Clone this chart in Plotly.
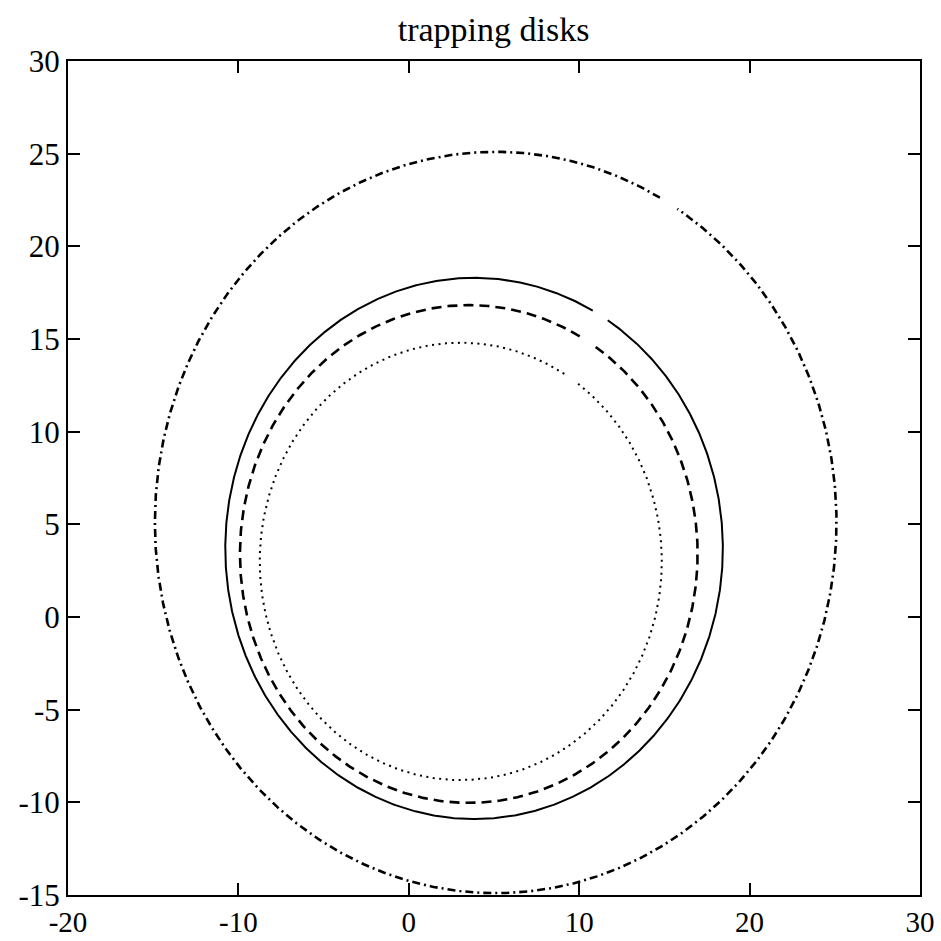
import numpy as np
import plotly.graph_objects as go

# Trapping disks: centre, radius and the small unplotted arc (degrees)
disk_names = ["outer (dash-dot)", "solid", "dashed", "dotted"]
center_x = [5.1, 3.83, 3.52, 3.05]
center_y = [5.1, 3.70, 3.40, 3.00]
radius = [20.0, 14.6, 13.43, 11.8]
gap_from_deg = [57.8, 57.5, 57.5, 55.0]
gap_to_deg = [61.2, 61.5, 61.0, 59.0]

line_dash = ["8px,4px,2px,4px", "solid", "10px,6px", "2px,4.5px"]
line_width = [2.6, 2.0, 2.6, 2.0]

x_ticks = [-20, -10, 0, 10, 20, 30]
y_ticks = [-15, -10, -5, 0, 5, 10, 15, 20, 25, 30]

fig = go.Figure()
for i in range(len(disk_names)):
    t = np.radians(np.linspace(gap_to_deg[i], gap_from_deg[i] + 360.0, 900))
    fig.add_trace(go.Scatter(
        x=center_x[i] + radius[i] * np.cos(t),
        y=center_y[i] + radius[i] * np.sin(t),
        mode="lines",
        name=disk_names[i],
        line=dict(color="black", width=line_width[i], dash=line_dash[i]),
        showlegend=False,
        hoverinfo="skip",
    ))

font_family = "Liberation Serif, Times New Roman, serif"
axis_common = dict(
    showgrid=False, zeroline=False, showline=True, linecolor="black",
    linewidth=2, mirror="ticks", ticks="inside", ticklen=12, tickwidth=2,
    tickcolor="black", automargin=False,
    tickfont=dict(family=font_family, size=31, color="black"),
)

fig.update_layout(
    width=941, height=941,
    margin=dict(l=68, r=21, t=61, b=46),
    paper_bgcolor="white", plot_bgcolor="white",
    title=dict(text="trapping disks", x=0.5245, xanchor="center", y=0.969, yanchor="middle",
               font=dict(family=font_family, size=34, color="black")),
    xaxis=dict(range=[-20, 30], tickvals=x_ticks, ticktext=[str(v) for v in x_ticks], **axis_common),
    yaxis=dict(range=[-15, 30], tickvals=y_ticks, ticktext=[str(v) for v in y_ticks], **axis_common),
)
fig.update_xaxes(tickfont=dict(size=29))

fig.write_html("out.html")
